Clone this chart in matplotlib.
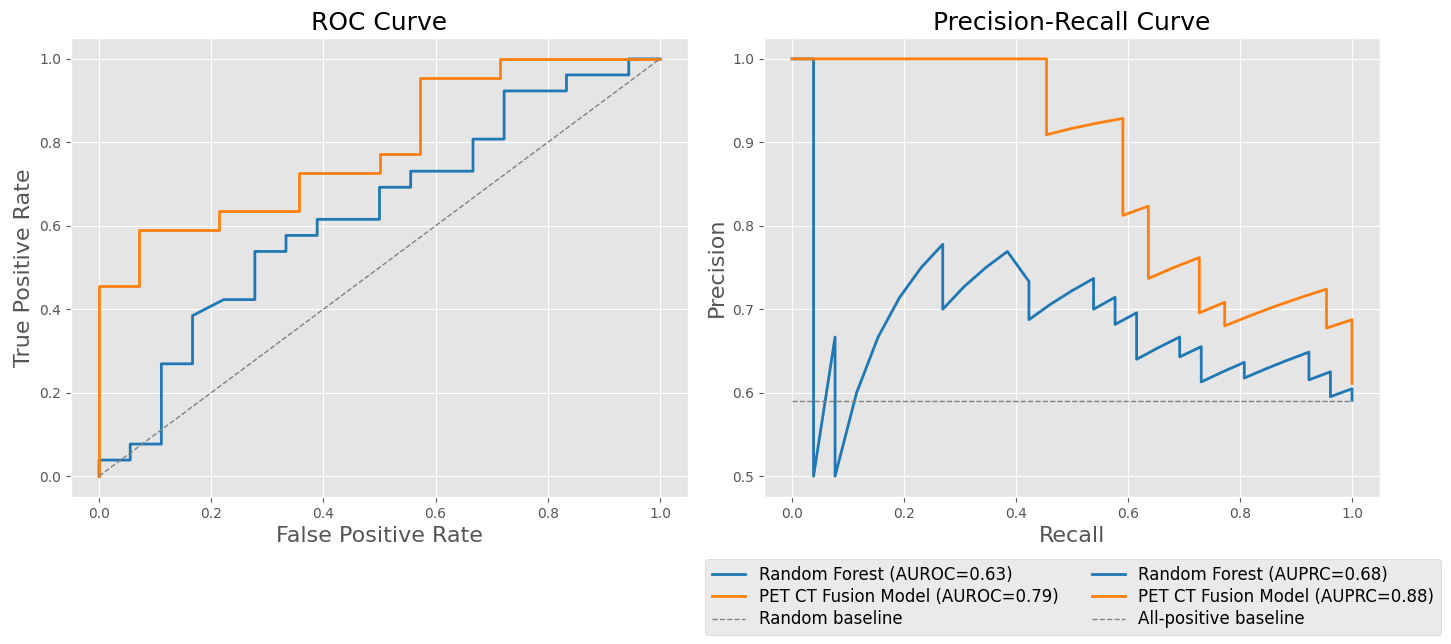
import matplotlib
matplotlib.use("Agg")
import matplotlib.pyplot as plt

plt.style.use("ggplot")

# ROC data
rf_fpr = [0.0, 0.0, 0.0556, 0.0556, 0.1111, 0.1111, 0.1667, 0.1667, 0.2222, 0.2778, 0.2778,
          0.3333, 0.3333, 0.3889, 0.3889, 0.5, 0.5, 0.5556, 0.5556, 0.6667, 0.6667,
          0.7222, 0.7222, 0.8333, 0.8333, 0.9444, 0.9444, 1.0]
rf_tpr = [0.0, 0.0385, 0.0385, 0.0769, 0.0769, 0.2692, 0.2692, 0.3846, 0.4231, 0.4231, 0.5385,
          0.5385, 0.5769, 0.5769, 0.6154, 0.6154, 0.6923, 0.6923, 0.7308, 0.7308, 0.8077,
          0.8077, 0.9231, 0.9231, 0.9615, 0.9615, 1.0, 1.0]
pet_fpr = [0.0, 0.0, 0.0714, 0.0714, 0.2143, 0.2143, 0.3571, 0.3571, 0.5, 0.5, 0.5714,
           0.5714, 0.7143, 0.7143, 1.0]
pet_tpr = [0.0, 0.4545, 0.4545, 0.5909, 0.5909, 0.6364, 0.6364, 0.7273, 0.7273, 0.7727, 0.7727,
           0.9545, 0.9545, 1.0, 1.0]

# PR data
rf_recall = [0.0, 0.0385, 0.0385, 0.0769, 0.0769, 0.1154, 0.1538, 0.1923, 0.2308, 0.2692,
             0.2692, 0.3077, 0.3462, 0.3846, 0.4231, 0.4231, 0.4615, 0.5, 0.5385, 0.5385,
             0.5769, 0.5769, 0.6154, 0.6154, 0.6538, 0.6923, 0.6923, 0.7308, 0.7308, 0.7692,
             0.8077, 0.8077, 0.8462, 0.8846, 0.9231, 0.9231, 0.9615, 0.9615, 1.0, 1.0]
rf_precision = [1.0, 1.0, 0.5, 0.6667, 0.5, 0.6, 0.6667, 0.7143, 0.75, 0.7778,
                0.7, 0.7273, 0.75, 0.7692, 0.7333, 0.6875, 0.7059, 0.7222, 0.7368, 0.7,
                0.7143, 0.6818, 0.6957, 0.64, 0.6538, 0.6667, 0.6429, 0.6552, 0.6129, 0.625,
                0.6364, 0.6176, 0.6286, 0.6389, 0.6486, 0.6154, 0.625, 0.5952, 0.6047, 0.5909]
pet_recall = [0.0, 0.4545, 0.4545, 0.5, 0.5455, 0.5909, 0.5909, 0.6364, 0.6364, 0.6818,
              0.7273, 0.7273, 0.7727, 0.7727, 0.8182, 0.8636, 0.9091, 0.9545, 0.9545, 1.0, 1.0]
pet_precision = [1.0, 1.0, 0.9091, 0.9167, 0.9231, 0.9286, 0.8125, 0.8235, 0.7368, 0.75,
                 0.7619, 0.6957, 0.7083, 0.68, 0.6923, 0.7037, 0.7143, 0.7241, 0.6774, 0.6875, 0.6111]

baseline_prevalence = 0.59
auroc_labels = ["Random Forest (AUROC=0.63)", "PET CT Fusion Model (AUROC=0.79)", "Random baseline"]
auprc_labels = ["Random Forest (AUPRC=0.68)", "PET CT Fusion Model (AUPRC=0.88)", "All-positive baseline"]

W, H = 1451, 644
fig = plt.figure(figsize=(W / 100, H / 100), dpi=100)
ax1 = fig.add_axes([71 / W, 1 - 497 / H, 617 / W, 459 / H])
ax2 = fig.add_axes([764 / W, 1 - 497 / H, 616 / W, 459 / H])

blue = "#1f77b4"
orange = "#ff7f0e"

h1, = ax1.plot(rf_fpr, rf_tpr, color=blue, lw=2, label=auroc_labels[0])
h2, = ax1.plot(pet_fpr, pet_tpr, color=orange, lw=2, label=auroc_labels[1])
h3, = ax1.plot([0, 1], [0, 1], "--", color="gray", lw=1, label=auroc_labels[2])
ax1.set_title("ROC Curve", fontsize=18, color="black")
ax1.set_xlabel("False Positive Rate", fontsize=16)
ax1.set_ylabel("True Positive Rate", fontsize=16)

g1, = ax2.plot(rf_recall, rf_precision, color=blue, lw=2, label=auprc_labels[0])
g2, = ax2.plot(pet_recall, pet_precision, color=orange, lw=2, label=auprc_labels[1])
g3, = ax2.plot([0, 1], [baseline_prevalence, baseline_prevalence], "--", color="gray", lw=1,
               label=auprc_labels[2])
ax2.set_title("Precision-Recall Curve", fontsize=18, color="black")
ax2.set_xlabel("Recall", fontsize=16)
ax2.set_ylabel("Precision", fontsize=16)

for ax in (ax1, ax2):
    ax.tick_params(labelsize=10)

fig.legend(handles=[h1, h2, h3, g1, g2, g3], ncol=2, fontsize=12, labelspacing=0.26,
           loc="upper right", bbox_to_anchor=(1441 / W, 1 - 559 / H), borderaxespad=0)

fig.savefig("out.png", dpi=100)
